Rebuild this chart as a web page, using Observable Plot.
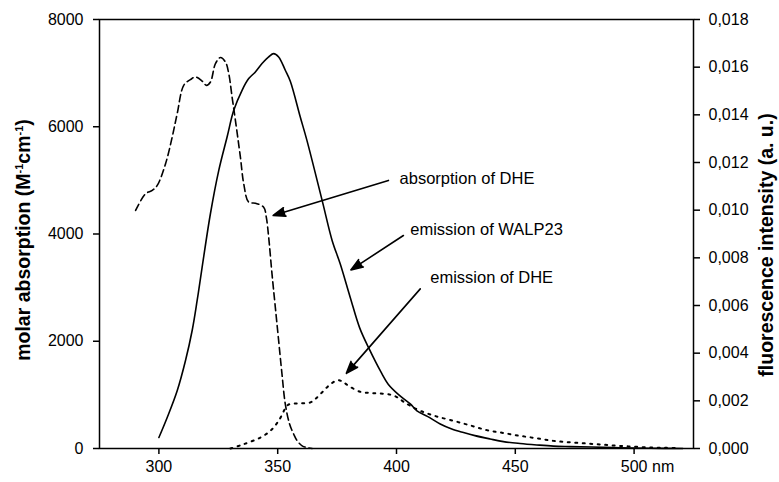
<!DOCTYPE html>
<html><head><meta charset="utf-8">
<script src="https://cdn.jsdelivr.net/npm/d3@7"></script>
<script src="https://cdn.jsdelivr.net/npm/@observablehq/plot@0.6"></script>
<style>body{margin:0;background:#fff;}</style>
</head><body><div id="chart"></div>
<script>
// ---- tick values ----
const wavelengthTicks = [300, 350, 400, 450, 500];
const absorptionTicks = [0, 2000, 4000, 6000, 8000];
const fluorescenceTicks = [0, 0.002, 0.004, 0.006, 0.008, 0.010, 0.012, 0.014, 0.016, 0.018];
const absorptionMax = 8000;
const fluorescenceMax = 0.018;

// ---- absorption of DHE (left axis, M^-1 cm^-1) ----
const absNm = [290.2,294.4,297.2,299.3,302.8,305.6,307.7,310.5,313.3,315.4,318.2,320.0,321.7,323.8,325.9,328.0,329.4,330.8,332.2,334.3,335.7,337.8,340.6,344.1,345.2,346.2,347.6,349.0,350.4,351.8,353.2,355.0,356.7,358.2,360.3,362.5,364.5];
const absValue = [4439,4751,4812,4906,5311,5808,6245,6777,6880,6928,6853,6772,6835,7178,7290,7208,6992,6555,6119,5434,4937,4594,4575,4500,4314,3940,3257,2633,2011,1389,829,456,270,144,50,15,0];

// ---- emission of WALP23 (right axis, a.u.) ----
const walpNm = [300,303.5,307.7,311.2,314.0,316.1,318.2,321.7,325.2,328.7,331.5,335.0,337.8,340.6,343.4,346.2,348.3,350.4,353.2,355.3,359.5,362.3,368.7,372.9,376.3,380.5,384.5,388.2,393.5,396.5,401,405.8,408.6,413,418.4,423,428.2,433,439.4,445,452,459,466,473,482,494,507,520.5];
const walpFluor = [0.00046,0.0013,0.00242,0.00369,0.00495,0.00621,0.00761,0.00986,0.01167,0.01307,0.01419,0.01503,0.01552,0.0158,0.01615,0.01643,0.01657,0.01643,0.01587,0.01541,0.01391,0.01293,0.01041,0.00873,0.00775,0.00635,0.00506,0.00424,0.0032,0.0027,0.00225,0.00187,0.00158,0.00135,0.00103,0.00083,0.00067,0.00054,0.0004,0.00029,0.00021,0.00015,0.0001,0.00008,0.00006,0.00003,0.00001,0];

// ---- emission of DHE (right axis, a.u.) ----
const dheNm = [330.1,335.7,342.7,346.9,350.4,353.9,355.3,359,363.7,366,369.3,372,375.3,377.5,379.8,384.7,389,393,397.4,400.5,403,406,410,416,424,431,438,445,452,459,466,473,480,487,494,501,508,513,517.8];
const dheFluor = [0,0.00018,0.00046,0.00074,0.00116,0.00179,0.00187,0.00189,0.00193,0.00209,0.00242,0.00268,0.00287,0.00279,0.00263,0.00238,0.00233,0.00231,0.00226,0.00214,0.00196,0.00178,0.00158,0.00137,0.00116,0.00097,0.00077,0.00065,0.00053,0.00043,0.00032,0.00026,0.00021,0.00016,0.00011,0.00007,0.00004,0.00003,0.00002];

// ---- annotations ----
const labelText = ["absorption of DHE", "emission of WALP23", "emission of DHE"];
const labelNm = [401.3, 405.8, 414.2];
const labelValue = [5033, 4078, 3182];
const arrowFromNm = [396.6, 402.9, 410.0];
const arrowFromValue = [4999, 3972, 2977];
const arrowToNm = [348.1, 380.8, 378.9];
const arrowToValue = [4346, 3331, 1401];

const k = absorptionMax / fluorescenceMax;
const absorption = absNm.map((x, i) => ({x, y: absValue[i]}));
const walp = walpNm.map((x, i) => ({x, y: walpFluor[i] * k}));
const dhe = dheNm.map((x, i) => ({x, y: dheFluor[i] * k}));
const labels = labelText.map((t, i) => ({t, x: labelNm[i], y: labelValue[i]}));
const arrows = labelText.map((t, i) => ({x1: arrowFromNm[i], y1: arrowFromValue[i], x2: arrowToNm[i], y2: arrowToValue[i]}));

const font = "'Liberation Sans', Arial, Helvetica, sans-serif";

const chart = Plot.plot({
  width: 779,
  height: 482,
  marginLeft: 99,
  marginRight: 86,
  marginTop: 19,
  marginBottom: 34,
  style: {fontFamily: font, fontSize: "16px", color: "#000", background: "#fff"},
  x: {domain: [275, 525]},
  y: {domain: [0, absorptionMax]},
  marks: [
    Plot.line(absorption, {x: "x", y: "y", stroke: "#000", strokeWidth: 1.6, strokeDasharray: "7,4", curve: "catmull-rom"}),
    Plot.line(walp, {x: "x", y: "y", stroke: "#000", strokeWidth: 1.6, curve: "catmull-rom"}),
    Plot.line(dhe, {x: "x", y: "y", stroke: "#000", strokeWidth: 2, strokeDasharray: "2,5.5", curve: "catmull-rom"}),
    Plot.arrow(arrows, {x1: "x1", y1: "y1", x2: "x2", y2: "y2", stroke: "#000", fill: "#000", strokeWidth: 1.6, strokeLinejoin: "miter", headLength: 12, headAngle: 40}),
    Plot.text(labels, {x: "x", y: "y", text: "t", textAnchor: "start", fontSize: 16.5, fill: "#000"}),
    Plot.axisX({ticks: wavelengthTicks, tickSize: 6, tickPadding: 6, tickFormat: d => String(d), label: null, strokeWidth: 1.5, fontSize: 16}),
    Plot.text([500], {x: d => d, frameAnchor: "bottom", text: () => "nm", textAnchor: "start", lineAnchor: "top", dx: 18, dy: 12, fontSize: 16, fill: "#000"}),
    Plot.axisY({ticks: absorptionTicks, tickSize: 6, tickPadding: 10, tickFormat: d => String(d), label: null, strokeWidth: 1.5, fontSize: 16}),
    Plot.axisY({anchor: "right", ticks: fluorescenceTicks.map(v => v * k), tickSize: 6, tickPadding: 9,
      tickFormat: d => (d / k).toFixed(3).replace(".", ","), label: null, strokeWidth: 1.5, fontSize: 16}),
    Plot.frame({stroke: "#000", strokeWidth: 1.5}),
    Plot.text(["molar absorption (M-1cm-1)"], {frameAnchor: "left", textAnchor: "middle", lineAnchor: "middle", rotate: -90, dx: -76, dy: 6, fontWeight: "bold", fontSize: 19.5, fill: "#000"}),
    Plot.text(["fluorescence intensity (a. u.)"], {frameAnchor: "right", textAnchor: "middle", lineAnchor: "middle", rotate: -90, dx: 73, dy: 11, fontWeight: "bold", fontSize: 19.5, fill: "#000"})
  ]
});

// superscripts in the left axis title
d3.select(chart).selectAll("text").filter(function() { return this.textContent === "molar absorption (M-1cm-1)"; })
  .each(function() {
    const t = d3.select(this);
    t.text(null);
    t.append("tspan").text("molar absorption (M");
    t.append("tspan").attr("dy", -7).attr("font-size", 11).text("-1");
    t.append("tspan").attr("dy", 7).text("cm");
    t.append("tspan").attr("dy", -7).attr("font-size", 11).text("-1");
    t.append("tspan").attr("dy", 7).text(")");
  });

document.getElementById("chart").appendChild(chart);
</script>
</body></html>
